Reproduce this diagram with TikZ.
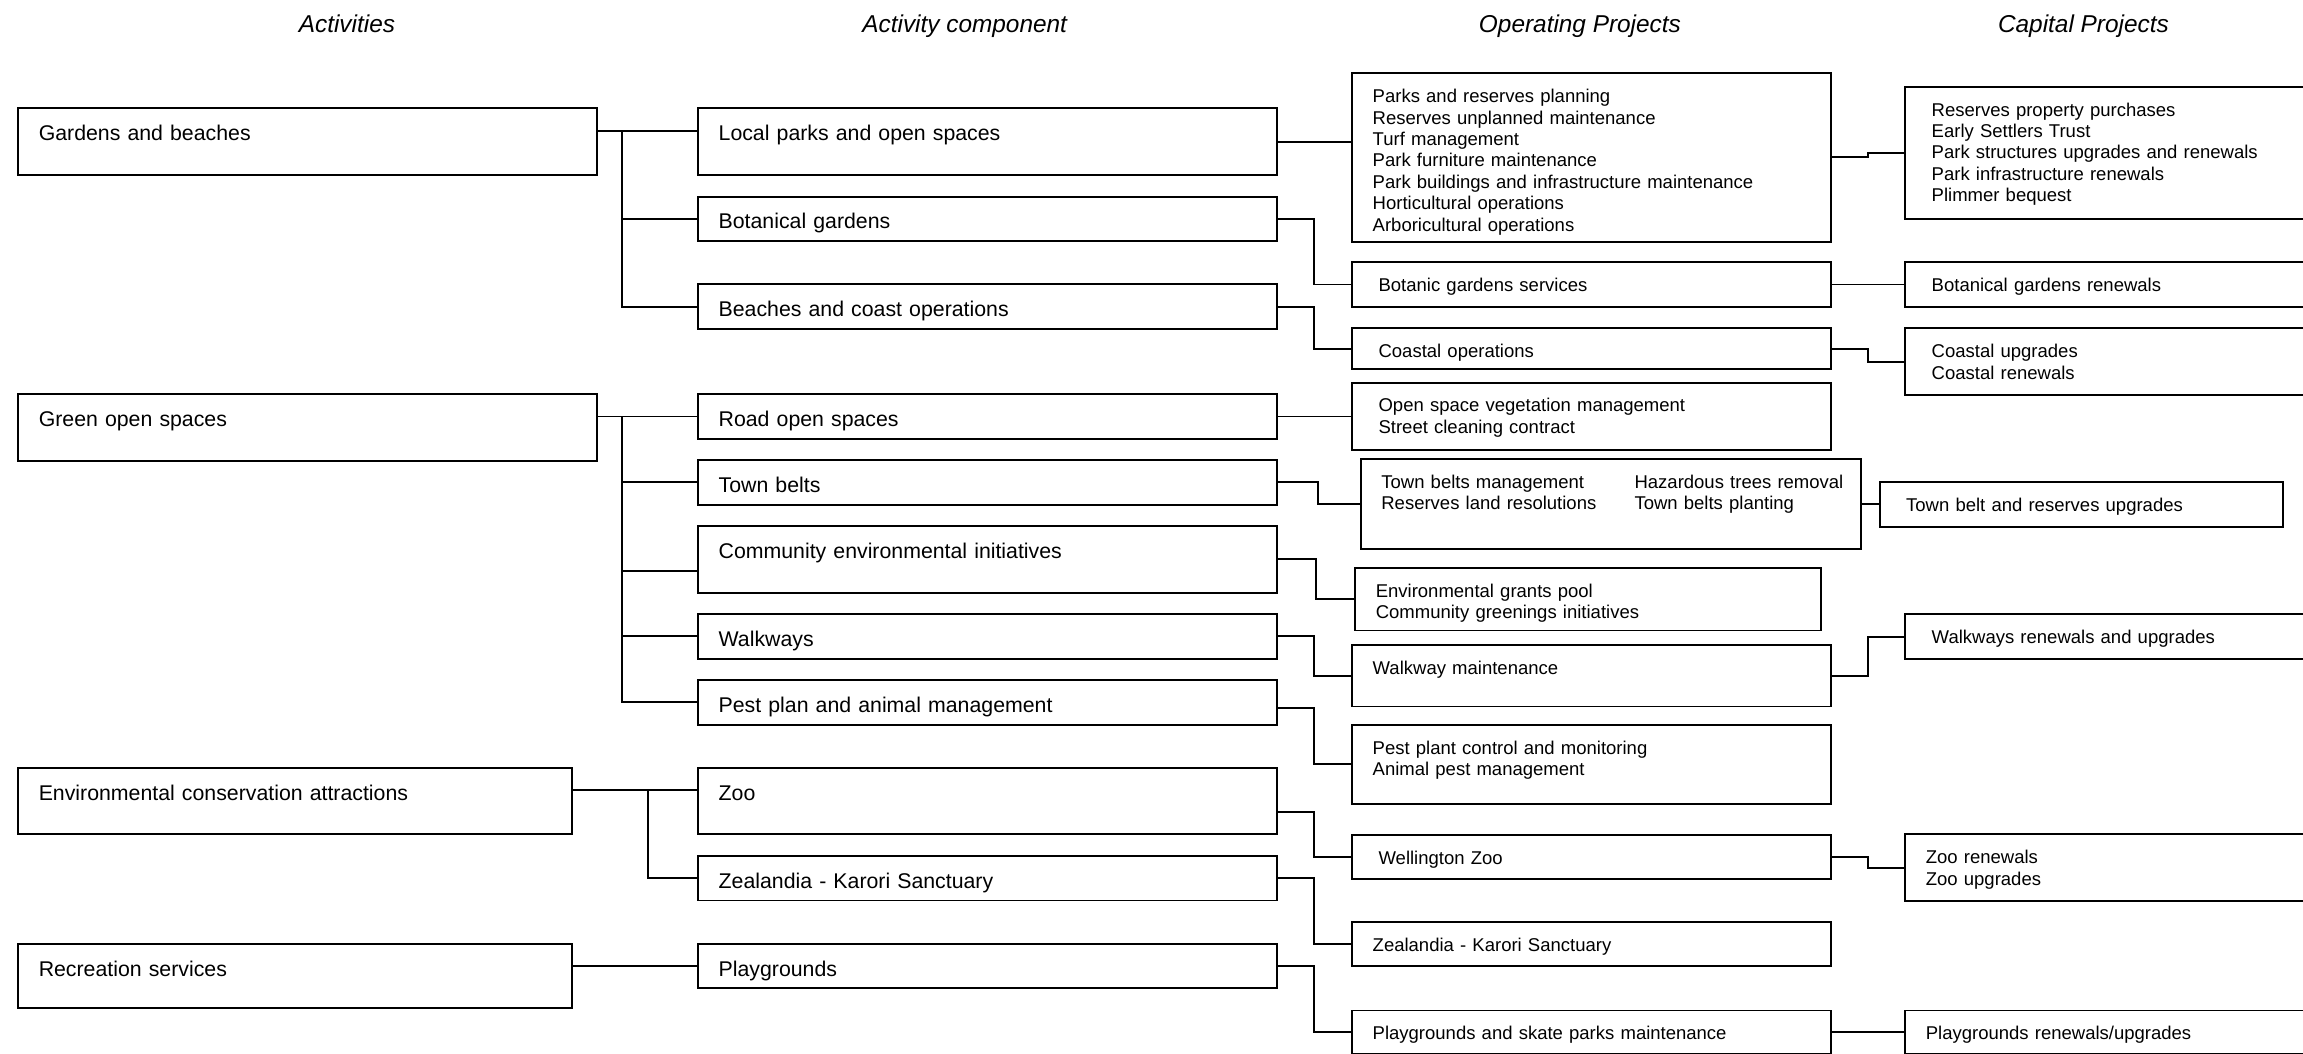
\documentclass[tikz,border=0pt]{standalone}
\usepackage{fontspec}
\setmainfont{Liberation Sans}
\usepackage{tikz}
\newcommand\boxfont{\fontsize{14.5}{17}\selectfont}
\newcommand\subfont{\fontsize{12.6}{14.6}\selectfont}
\newcommand\headfont{\fontsize{16.6}{20}\selectfont\itshape}
\tikzset{
  box/.style={draw=black, line width=1.3pt, anchor=north west, outer sep=0pt,
    inner ysep=0pt, align=left, font=\boxfont,
    /utils/exec={\def\bxpad{14}\def\bxtop{22}}},
  small/.style={font=\subfont, /utils/exec={\def\bxtop{20}}},
  pad/.style={/utils/exec={\def\bxpad{18}}},
  wh/.code 2 args={%
    \pgfmathsetmacro\bxw{#1-2*\bxpad}%
    \pgfmathsetmacro\bxd{#2-\bxtop}%
    \pgfkeysalso{inner xsep=\bxpad pt, text width=\bxw pt,
      text height=\bxtop pt, text depth=\bxd pt}},
  link/.style={draw=black, line width=1.3pt},
  head/.style={font=\headfont, anchor=base, inner sep=0pt},
}
\begin{document}
\begin{tikzpicture}[x=1pt, y=-1pt]
  \useasboundingbox (0,0) rectangle (1568,717.6);
  \clip (0,0) rectangle (1568,717.6);
  \node[head] (hact) at (236.2,22.3) {Activities};
  \node[head] (hcomp) at (656.8,22.3) {Activity component};
  \node[head] (hop) at (1075.7,22.3) {Operating Projects};
  \node[head] (hcap) at (1418.5,22.3) {Capital Projects};

  \node[box, wh={394}{45.4}] (gard) at (12.4,73.7) {Gardens and beaches};
  \node[box, wh={394}{45.4}] (green) at (12.4,268.2) {Green open spaces};
  \node[box, wh={377}{45}] (envc) at (12.4,523) {Environmental conservation attractions};
  \node[box, wh={377}{43.8}] (recr) at (12.4,642.6) {Recreation services};

  \node[box, wh={394}{45.4}] (locp) at (475.3,73.7) {Local parks and open spaces};
  \node[box, wh={394}{29.9}] (botg) at (475.3,133.9) {Botanical gardens};
  \node[box, wh={394}{30.4}] (beach) at (475.3,193.6) {Beaches and coast operations};
  \node[box, wh={394}{30.7}] (road) at (475.3,268.2) {Road open spaces};
  \node[box, wh={394}{30.7}] (town) at (475.3,313.1) {Town belts};
  \node[box, wh={394}{45.4}] (comm) at (475.3,358.1) {Community environmental initiatives};
  \node[box, wh={394}{30.6}] (walk) at (475.3,418) {Walkways};
  \node[box, wh={394}{30.5}] (pest) at (475.3,463) {Pest plan and animal management};
  \node[box, wh={394}{45}] (zoo) at (475.3,523) {Zoo};
  \node[box, wh={394}{30.4}] (zeal) at (475.3,582.7) {Zealandia - Karori Sanctuary};
  \node[box, wh={394}{30.2}] (play) at (475.3,642.6) {Playgrounds};

  \node[box, small, wh={326}{114.6}] (parksop) at (920.6,49.9) {Parks and reserves planning\\Reserves unplanned maintenance\\Turf management\\Park furniture maintenance\\Park buildings and infrastructure maintenance\\Horticultural operations\\Arboricultural operations};
  \node[box, small, pad, wh={326}{30.2}] (botsvc) at (920.6,178.6) {Botanic gardens services};
  \node[box, small, pad, wh={326}{28}] (coastop) at (920.6,223.5) {Coastal operations};
  \node[box, small, pad, wh={326}{45.8}] (vegop) at (920.6,260.5) {Open space vegetation management\\Street cleaning contract};
  \node[box, small, wh={340.3}{61.4}] (townop) at (926.5,312.3) {\mbox{\makebox[172.4pt][l]{Town belts management}Hazardous trees removal}\\\mbox{\makebox[172.4pt][l]{Reserves land resolutions}Town belts planting}};
  \node[box, small, wh={317.3}{42.5}] (grants) at (922.7,386.8) {Environmental grants pool\\Community greenings initiatives};
  \node[box, small, wh={326}{42}] (walkop) at (920.6,439) {Walkway maintenance};
  \node[box, small, wh={326}{53.8}] (pestop) at (920.6,493.5) {Pest plant control and monitoring\\Animal pest management};
  \node[box, small, pad, wh={326}{29.8}] (zooop) at (920.6,568.4) {Wellington Zoo};
  \node[box, small, wh={326}{30}] (zealop) at (920.6,628) {Zealandia - Karori Sanctuary};
  \node[box, small, wh={326}{29.4}] (playop) at (920.6,688) {Playgrounds and skate parks maintenance};

  \node[box, small, pad, wh={300}{89.9}] (parkscap) at (1297.2,59) {Reserves property purchases\\Early Settlers Trust\\Park structures upgrades and renewals\\Park infrastructure renewals\\Plimmer bequest};
  \node[box, small, pad, wh={300}{30.2}] (botcap) at (1297.2,178.6) {Botanical gardens renewals};
  \node[box, small, pad, wh={300}{45.4}] (coastcap) at (1297.2,223.5) {Coastal upgrades\\Coastal renewals};
  \node[box, small, pad, wh={274.5}{30.1}] (towncap) at (1279.8,328.4) {Town belt and reserves upgrades};
  \node[box, small, pad, wh={300}{30.2}] (walkcap) at (1297.2,418.3) {Walkways renewals and upgrades};
  \node[box, small, wh={300}{45.5}] (zoocap) at (1297.2,568) {Zoo renewals\\Zoo upgrades};
  \node[box, small, wh={300}{29.5}] (playcap) at (1297.2,688) {Playgrounds renewals/upgrades};

  \draw[link] ([yshift=7.4pt]gard.east) -- ++(17,0) coordinate (gbus) |- (beach.west);
  \draw[link] (gbus) -- (gbus -| locp.west);
  \draw[link] (gbus |- botg.west) -- (botg.west);
  \draw[link] ([yshift=7.3pt]green.east) -- ++(17,0) coordinate (obus) |- (pest.west);
  \draw[link] (obus) -- (obus -| road.west);
  \draw[link] (obus |- town.west) -- (town.west);
  \coordinate (commin) at ([yshift=-7.7pt]comm.west);
  \draw[link] (obus |- commin) -- (commin);
  \draw[link] (obus |- walk.west) -- (walk.west);
  \draw[link] ([yshift=7.7pt]envc.east) -- ++(52,0) coordinate (ebus) |- (zeal.west);
  \draw[link] (ebus) -- (ebus -| zoo.west);
  \draw[link] (play.west -| recr.east) -- (play.west);

  \draw[link] (locp.east) -- (locp.east -| parksop.west);
  \draw[link] (botg.east) -- ++(25.5,0) |- (botsvc.west);
  \draw[link] (beach.east) -- ++(25.5,0) |- (coastop.west);
  \draw[link] (road.east) -- (road.east -| vegop.west);
  \draw[link] (town.east) -- ++(28.3,0) |- (townop.west);
  \draw[link] (comm.east) -- ++(26.4,0) |- (grants.west);
  \draw[link] (walk.east) -- ++(25.5,0) |- (walkop.west);
  \draw[link] ([yshift=-4pt]pest.east) -- ++(25.5,0) |- (pestop.west);
  \draw[link] ([yshift=-7.5pt]zoo.east) -- ++(25.5,0) |- (zooop.west);
  \draw[link] (zeal.east) -- ++(25.5,0) |- (zealop.west);
  \draw[link] (play.east) -- ++(25.5,0) |- (playop.west);

  \draw[link] (parksop.east) -- ++(25.3,0) |- (parkscap.west);
  \draw[link] (botsvc.east) -- (botsvc.east -| botcap.west);
  \draw[link] (coastop.east) -- ++(25.3,0) |- (coastcap.west);
  \draw[link] (townop.east) -- (townop.east -| towncap.west);
  \draw[link] (walkop.east) -- ++(25.3,0) |- (walkcap.west);
  \draw[link] (zooop.east) -- ++(25.3,0) |- (zoocap.west);
  \draw[link] (playop.east) -- (playop.east -| playcap.west);
\end{tikzpicture}
\end{document}
